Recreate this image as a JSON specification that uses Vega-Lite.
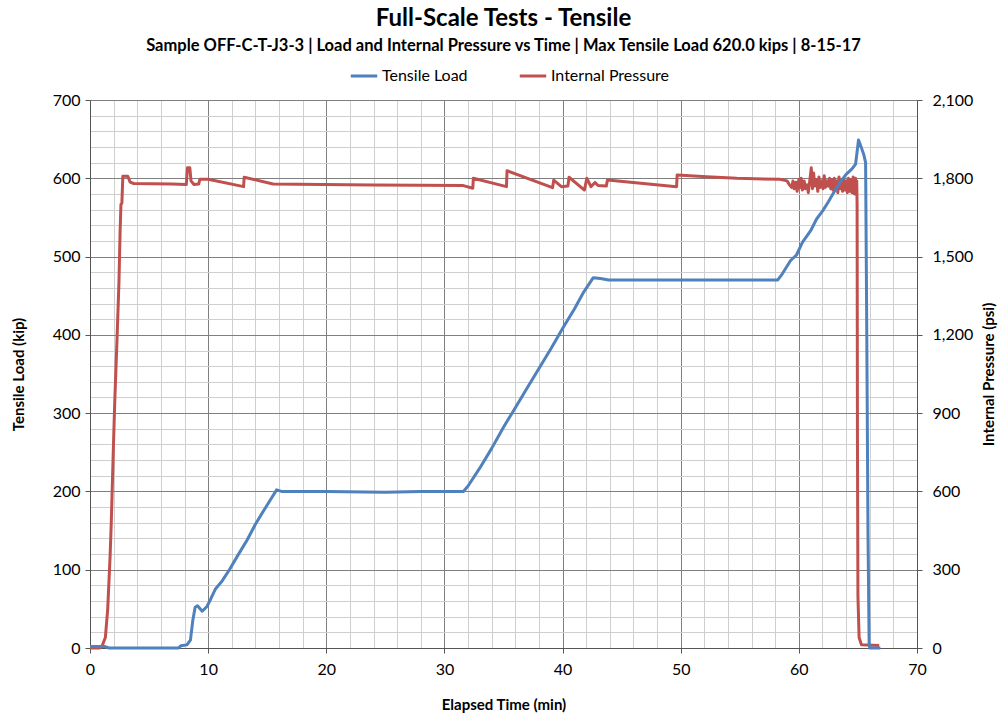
{
  "$schema": "https://vega.github.io/schema/vega-lite/v6.json",
  "width": 827,
  "height": 548,
  "autosize": {"type": "none"},
  "padding": {"left": 90, "top": 100, "right": 81, "bottom": 67},
  "background": "white",
  "config": {"font": "Lato", "view": {"stroke": null}},
  "title": {
    "text": "Full-Scale Tests - Tensile",
    "subtitle": "Sample OFF-C-T-J3-3 | Load and Internal Pressure vs Time | Max Tensile Load 620.0 kips | 8-15-17",
    "fontSize": 24,
    "fontWeight": "bold",
    "color": "black",
    "subtitleFontSize": 16.5,
    "subtitleFontWeight": "bold",
    "subtitleColor": "black",
    "subtitlePadding": 7,
    "anchor": "middle",
    "offset": 7
  },
  "datasets": {
    "load": [
      {"t": 0, "kip": 2}, {"t": 1.2, "kip": 2}, {"t": 1.6, "kip": 0}, {"t": 7.5, "kip": 0},
      {"t": 7.7, "kip": 3}, {"t": 8.2, "kip": 4}, {"t": 8.5, "kip": 10}, {"t": 8.7, "kip": 35},
      {"t": 8.9, "kip": 52}, {"t": 9.1, "kip": 54}, {"t": 9.5, "kip": 47}, {"t": 9.9, "kip": 53},
      {"t": 10.2, "kip": 62}, {"t": 10.6, "kip": 75}, {"t": 11.2, "kip": 86}, {"t": 11.8, "kip": 100},
      {"t": 12.5, "kip": 118}, {"t": 13.3, "kip": 138}, {"t": 14.0, "kip": 158}, {"t": 14.8, "kip": 178},
      {"t": 15.3, "kip": 190}, {"t": 15.8, "kip": 202}, {"t": 16.2, "kip": 200}, {"t": 20, "kip": 200},
      {"t": 25, "kip": 199}, {"t": 28, "kip": 200}, {"t": 31.6, "kip": 200}, {"t": 32, "kip": 207},
      {"t": 33, "kip": 230}, {"t": 34, "kip": 255}, {"t": 35, "kip": 282}, {"t": 36, "kip": 307},
      {"t": 37, "kip": 332}, {"t": 38, "kip": 357}, {"t": 39, "kip": 382}, {"t": 40, "kip": 408},
      {"t": 41, "kip": 433}, {"t": 41.8, "kip": 455}, {"t": 42.6, "kip": 473}, {"t": 43.2, "kip": 472},
      {"t": 43.9, "kip": 470}, {"t": 50, "kip": 470}, {"t": 58.2, "kip": 470}, {"t": 58.6, "kip": 478},
      {"t": 59.3, "kip": 495}, {"t": 59.8, "kip": 502}, {"t": 60.3, "kip": 518}, {"t": 61, "kip": 533},
      {"t": 61.5, "kip": 548}, {"t": 62, "kip": 558}, {"t": 62.5, "kip": 570}, {"t": 63, "kip": 583},
      {"t": 63.5, "kip": 595}, {"t": 64, "kip": 605}, {"t": 64.5, "kip": 612}, {"t": 64.8, "kip": 618},
      {"t": 64.9, "kip": 630}, {"t": 65.05, "kip": 649}, {"t": 65.2, "kip": 643}, {"t": 65.5, "kip": 630},
      {"t": 65.65, "kip": 620}, {"t": 65.75, "kip": 400}, {"t": 65.85, "kip": 150}, {"t": 65.95, "kip": 5},
      {"t": 66.0, "kip": 0}, {"t": 66.9, "kip": 0}
    ],
    "pressure": [
      {"t": 0, "psi": 0}, {"t": 0.8, "psi": 0}, {"t": 1.0, "psi": 5}, {"t": 1.3, "psi": 40},
      {"t": 1.5, "psi": 150}, {"t": 1.7, "psi": 350}, {"t": 1.8, "psi": 480}, {"t": 2.0, "psi": 800},
      {"t": 2.1, "psi": 950}, {"t": 2.3, "psi": 1200}, {"t": 2.45, "psi": 1400}, {"t": 2.55, "psi": 1600},
      {"t": 2.62, "psi": 1700}, {"t": 2.7, "psi": 1705}, {"t": 2.78, "psi": 1808}, {"t": 3.2, "psi": 1808},
      {"t": 3.4, "psi": 1785}, {"t": 3.7, "psi": 1780}, {"t": 6.9, "psi": 1778}, {"t": 8.15, "psi": 1776},
      {"t": 8.25, "psi": 1840}, {"t": 8.45, "psi": 1840}, {"t": 8.55, "psi": 1790}, {"t": 8.8, "psi": 1776},
      {"t": 9.2, "psi": 1778}, {"t": 9.3, "psi": 1796}, {"t": 10.0, "psi": 1796}, {"t": 13.0, "psi": 1768},
      {"t": 13.05, "psi": 1804}, {"t": 15.5, "psi": 1778}, {"t": 17.5, "psi": 1777}, {"t": 24, "psi": 1774},
      {"t": 31.6, "psi": 1772}, {"t": 32.4, "psi": 1762}, {"t": 32.45, "psi": 1800}, {"t": 35.25, "psi": 1768},
      {"t": 35.3, "psi": 1829}, {"t": 39.15, "psi": 1764}, {"t": 39.25, "psi": 1793}, {"t": 39.9, "psi": 1768},
      {"t": 40.45, "psi": 1770}, {"t": 40.55, "psi": 1804}, {"t": 41.85, "psi": 1755}, {"t": 42.05, "psi": 1800},
      {"t": 42.4, "psi": 1768}, {"t": 42.75, "psi": 1784}, {"t": 43.0, "psi": 1772}, {"t": 43.7, "psi": 1770},
      {"t": 43.8, "psi": 1793}, {"t": 49.65, "psi": 1768}, {"t": 49.7, "psi": 1813}, {"t": 52.2, "psi": 1806},
      {"t": 54.75, "psi": 1800}, {"t": 58.4, "psi": 1796}, {"t": 59.0, "psi": 1790}, {"t": 59.2, "psi": 1775},
      {"t": 59.4, "psi": 1765}, {"t": 59.5, "psi": 1790}, {"t": 59.6, "psi": 1760}, {"t": 59.75, "psi": 1785},
      {"t": 59.85, "psi": 1750}, {"t": 60.0, "psi": 1795}, {"t": 60.1, "psi": 1765}, {"t": 60.2, "psi": 1800},
      {"t": 60.3, "psi": 1755}, {"t": 60.45, "psi": 1790}, {"t": 60.55, "psi": 1760}, {"t": 60.7, "psi": 1775},
      {"t": 60.8, "psi": 1745}, {"t": 60.95, "psi": 1800}, {"t": 61.05, "psi": 1840}, {"t": 61.15, "psi": 1760},
      {"t": 61.25, "psi": 1820}, {"t": 61.35, "psi": 1770}, {"t": 61.5, "psi": 1795}, {"t": 61.6, "psi": 1750},
      {"t": 61.7, "psi": 1805}, {"t": 61.8, "psi": 1765}, {"t": 61.95, "psi": 1790}, {"t": 62.05, "psi": 1760},
      {"t": 62.15, "psi": 1810}, {"t": 62.25, "psi": 1765}, {"t": 62.4, "psi": 1790}, {"t": 62.5, "psi": 1770},
      {"t": 62.6, "psi": 1800}, {"t": 62.7, "psi": 1760}, {"t": 62.8, "psi": 1795}, {"t": 62.9, "psi": 1755},
      {"t": 63.0, "psi": 1800}, {"t": 63.1, "psi": 1760}, {"t": 63.2, "psi": 1790}, {"t": 63.3, "psi": 1745},
      {"t": 63.4, "psi": 1805}, {"t": 63.5, "psi": 1760}, {"t": 63.6, "psi": 1790}, {"t": 63.7, "psi": 1750},
      {"t": 63.8, "psi": 1800}, {"t": 63.9, "psi": 1755}, {"t": 64.0, "psi": 1790}, {"t": 64.1, "psi": 1745},
      {"t": 64.2, "psi": 1800}, {"t": 64.3, "psi": 1750}, {"t": 64.4, "psi": 1795}, {"t": 64.5, "psi": 1745},
      {"t": 64.6, "psi": 1805}, {"t": 64.7, "psi": 1740}, {"t": 64.8, "psi": 1800}, {"t": 64.85, "psi": 1740},
      {"t": 64.9, "psi": 1790}, {"t": 64.93, "psi": 1700}, {"t": 64.96, "psi": 800}, {"t": 65.0, "psi": 200},
      {"t": 65.1, "psi": 40}, {"t": 65.3, "psi": 12}, {"t": 66.8, "psi": 10}
    ]
  },
  "encoding": {
    "x": {
      "field": "t", "type": "quantitative",
      "scale": {"domain": [0, 70], "nice": false},
      "axis": {
        "title": "Elapsed Time (min)",
        "values": [0,2,4,6,8,10,12,14,16,18,20,22,24,26,28,30,32,34,36,38,40,42,44,46,48,50,52,54,56,58,60,62,64,66,68,70],
        "labelExpr": "datum.value % 10 === 0 ? datum.label : ''",
        "labelOverlap": false,
        "labelFlush": false,
        "labelBound": false,
        "grid": true,
        "gridColor": {"condition": {"test": "datum.value % 10 === 0", "value": "#7f7f7f"}, "value": "#cfcfcf"},
        "gridWidth": 1,
        "tickColor": {"condition": {"test": "datum.value % 10 === 0", "value": "#555555"}, "value": "transparent"},
        "tickSize": 5,
        "domainColor": "#555555",
        "labelFontSize": 16,
        "labelColor": "black",
        "labelPadding": 8,
        "titleFontSize": 15,
        "titleFontWeight": "bold",
        "titleColor": "black",
        "titlePadding": 20
      }
    }
  },
  "layer": [
    {
      "data": {"name": "pressure"},
      "mark": {"type": "line", "strokeWidth": 3, "strokeJoin": "round"},
      "encoding": {
        "y": {
          "field": "psi", "type": "quantitative",
          "scale": {"domain": [0, 2100], "nice": false},
          "axis": {
            "orient": "right",
            "title": "Internal Pressure (psi)",
            "values": [0,300,600,900,1200,1500,1800,2100],
            "format": ",.0f",
            "labelOverlap": false,
            "labelFlush": false,
            "grid": false,
            "tickSize": 5,
            "tickColor": "#555555",
            "domainColor": "#555555",
            "labelFontSize": 16,
            "labelColor": "black",
            "labelPadding": 10,
            "titleFontSize": 15,
            "titleFontWeight": "bold",
            "titleColor": "black",
            "titleAngle": -90,
            "titlePadding": 24
          }
        },
        "color": {
          "datum": "Internal Pressure",
          "scale": {"domain": ["Tensile Load", "Internal Pressure"], "range": ["#4F81BD", "#C0504D"]},
          "legend": {
            "orient": "none",
            "legendX": 259,
            "legendY": -39,
            "direction": "horizontal",
            "title": null,
            "symbolType": "stroke",
            "symbolStrokeWidth": 3,
            "symbolSize": 700,
            "labelFontSize": 16,
            "labelColor": "black",
            "columnPadding": 45,
            "labelOffset": 3
          }
        }
      }
    },
    {
      "data": {"name": "load"},
      "mark": {"type": "line", "strokeWidth": 3, "strokeJoin": "round"},
      "encoding": {
        "y": {
          "field": "kip", "type": "quantitative",
          "scale": {"domain": [0, 700], "nice": false},
          "axis": {
            "orient": "left",
            "title": "Tensile Load (kip)",
            "values": [0,20,40,60,80,100,120,140,160,180,200,220,240,260,280,300,320,340,360,380,400,420,440,460,480,500,520,540,560,580,600,620,640,660,680,700],
            "labelExpr": "datum.value % 100 === 0 ? datum.label : ''",
            "labelOverlap": false,
            "labelFlush": false,
            "grid": true,
            "gridColor": {"condition": {"test": "datum.value % 100 === 0", "value": "#7f7f7f"}, "value": "#cfcfcf"},
            "gridWidth": 1,
            "tickColor": {"condition": {"test": "datum.value % 100 === 0", "value": "#555555"}, "value": "transparent"},
            "tickSize": 5,
            "domainColor": "#555555",
            "labelFontSize": 16,
            "labelColor": "black",
            "labelPadding": 5,
            "titleFontSize": 15,
            "titleFontWeight": "bold",
            "titleColor": "black",
            "titlePadding": 26
          }
        },
        "color": {"datum": "Tensile Load"}
      }
    }
  ],
  "resolve": {"scale": {"y": "independent"}}
}
